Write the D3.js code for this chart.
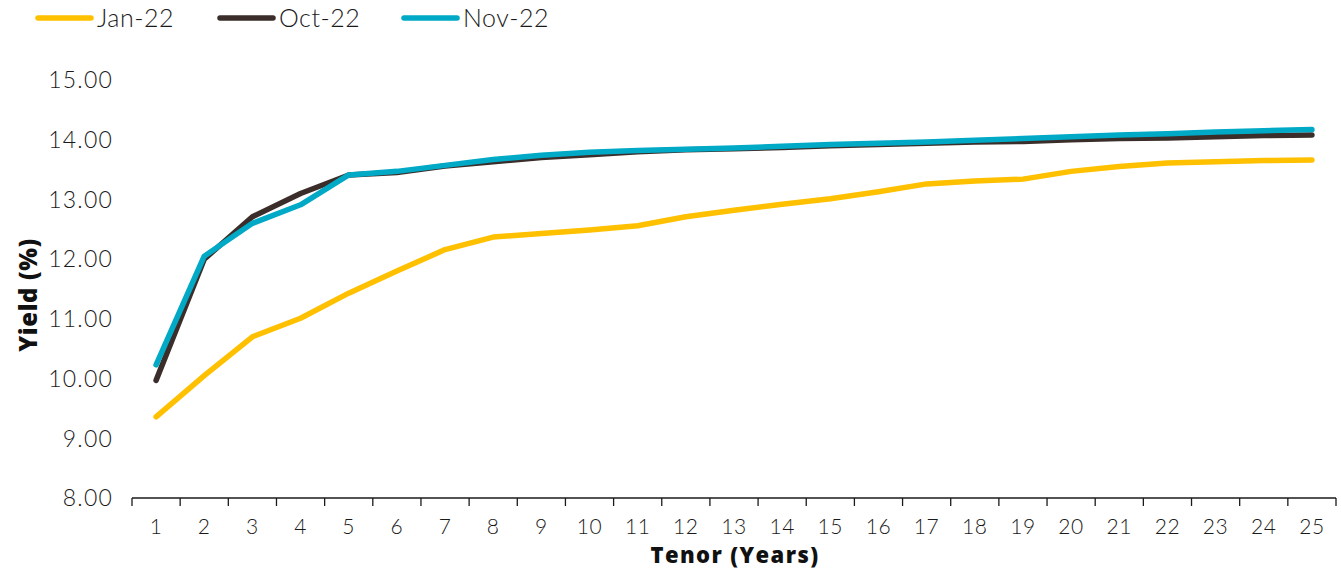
<!DOCTYPE html>
<html>
<head>
<meta charset="utf-8">
<script src="https://cdn.jsdelivr.net/npm/d3@7"></script>
<style>
  html, body { margin: 0; padding: 0; background: #fff; }
  svg { display: block; }
  text { font-family: "Century Gothic", "Lato", "DejaVu Sans", sans-serif; fill: #1a1a1a; }
  .title { font-family: "Open Sans", "Lato", sans-serif; font-weight: 800; fill: #111; }
</style>
</head>
<body>
<svg id="chart" width="1341" height="570"></svg>
<script>
const tenors = [1,2,3,4,5,6,7,8,9,10,11,12,13,14,15,16,17,18,19,20,21,22,23,24,25];
const seriesNames = ["Jan-22", "Oct-22", "Nov-22"];
const jan22 = [9.36,10.05,10.70,11.01,11.43,11.80,12.16,12.37,12.43,12.49,12.56,12.71,12.82,12.92,13.01,13.13,13.26,13.31,13.34,13.47,13.55,13.61,13.63,13.65,13.66];
const oct22 = [9.97,12.00,12.71,13.10,13.41,13.45,13.56,13.63,13.70,13.75,13.80,13.83,13.85,13.87,13.90,13.92,13.94,13.96,13.97,14.00,14.02,14.03,14.05,14.07,14.08];
const nov22 = [10.23,12.05,12.60,12.91,13.41,13.47,13.57,13.67,13.74,13.79,13.82,13.84,13.86,13.89,13.92,13.94,13.96,13.99,14.02,14.05,14.08,14.10,14.13,14.15,14.17];
const yTicks = [8,9,10,11,12,13,14,15];
const colors = ["#FFC000", "#3B2E2A", "#00A9C6"];

const svg = d3.select("#chart");
const mLeft = 132, mRight = 1336, mTop = 80, mBottom = 498;

const x = d3.scaleBand().domain(tenors).range([mLeft, mRight]).padding(0);
const y = d3.scaleLinear().domain([8, 15]).range([mBottom, mTop]);

// X axis
const xAxis = svg.append("g").attr("transform", `translate(0,${mBottom})`);
xAxis.append("line").attr("x1", mLeft).attr("x2", mRight).attr("y1", 0).attr("y2", 0)
  .attr("stroke", "#1a1a1a").attr("stroke-width", 1.3);
const edges = tenors.map(t => x(t)).concat([mRight]);
xAxis.selectAll("line.tick").data(edges).join("line").attr("class", "tick")
  .attr("x1", d => d).attr("x2", d => d).attr("y1", 0).attr("y2", 8)
  .attr("stroke", "#1a1a1a").attr("stroke-width", 1.3);
xAxis.selectAll("text").data(tenors).join("text")
  .attr("x", d => x(d) + x.bandwidth() / 2).attr("y", 36)
  .attr("text-anchor", "middle").attr("font-size", 21).attr("font-weight", 300)
  .attr("letter-spacing", 0.6).text(d => d);

// Y tick labels
svg.append("g").selectAll("text").data(yTicks).join("text")
  .attr("x", 113).attr("y", d => y(d)).attr("dy", "0.36em")
  .attr("text-anchor", "end").attr("font-size", 23).attr("font-weight", 300)
  .attr("letter-spacing", 1.2).text(d => d.toFixed(2));

// Axis titles
svg.append("text").attr("class", "title").attr("x", 735).attr("y", 563)
  .attr("text-anchor", "middle").attr("font-size", 22).attr("letter-spacing", 1.4).text("Tenor (Years)");
svg.append("text").attr("class", "title").attr("transform", `translate(37,295) rotate(-90)`)
  .attr("text-anchor", "middle").attr("font-size", 24).attr("letter-spacing", 0.6).text("Yield (%)");

// Lines
const allSeries = [jan22, oct22, nov22];
const line = d3.line().x((d, i) => x(tenors[i]) + x.bandwidth() / 2).y(d => y(d));
svg.append("g").selectAll("path").data(allSeries).join("path")
  .attr("d", d => line(d)).attr("fill", "none")
  .attr("stroke", (d, i) => colors[i]).attr("stroke-width", 5.5)
  .attr("stroke-linecap", "round").attr("stroke-linejoin", "round");

// Legend
const legendX = [38, 220, 404];
const lg = svg.append("g").selectAll("g").data(seriesNames).join("g")
  .attr("transform", (d, i) => `translate(${legendX[i]},18)`);
lg.append("line").attr("x1", 0).attr("x2", 53).attr("y1", 0).attr("y2", 0)
  .attr("stroke", (d, i) => colors[i]).attr("stroke-width", 5.5).attr("stroke-linecap", "round");
lg.append("text").attr("x", 59).attr("y", 0).attr("dy", "0.36em").attr("font-size", 25)
  .attr("font-weight", 300).attr("letter-spacing", 0.5).text(d => d);
</script>
</body>
</html>
